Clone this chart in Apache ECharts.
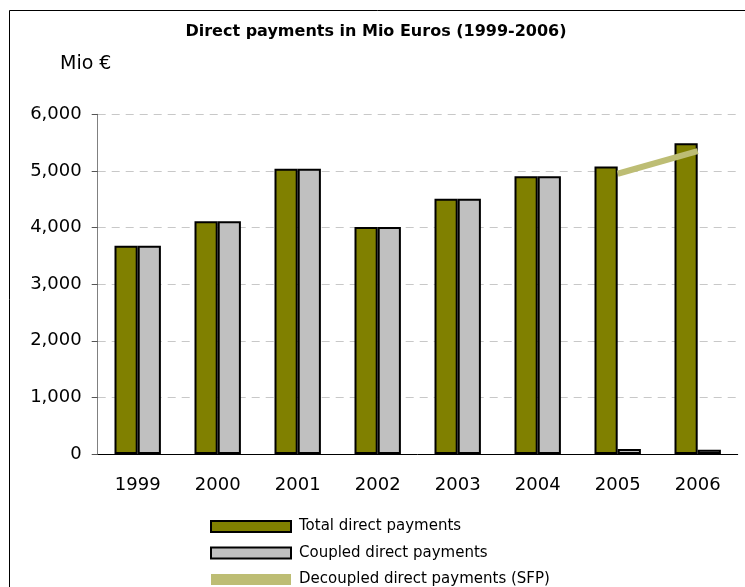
<!DOCTYPE html>
<html>
<head>
<meta charset="utf-8">
<script src="https://cdn.jsdelivr.net/npm/echarts@6/dist/echarts.min.js"></script>
<style>
  html, body { margin: 0; padding: 0; background: #fff; }
  #chart { width: 745px; height: 587px; }
</style>
</head>
<body>
<div id="chart"></div>
<script>
// data
const years = ['1999', '2000', '2001', '2002', '2003', '2004', '2005', '2006']
const totalPayments = [3680, 4110, 5040, 4010, 4510, 4905, 5080, 5490]
const coupledPayments = [3680, 4110, 5040, 4010, 4510, 4905, 90, 75]
const decoupledPayments = [null, null, null, null, null, null, 4950, 5350]
const yTicks = [0, 1000, 2000, 3000, 4000, 5000, 6000]

const font = '"DejaVu Sans", "Liberation Sans", sans-serif'
const chart = echarts.init(document.getElementById('chart'))

const option = {
  backgroundColor: '#fff',
  animation: false,
  textStyle: { fontFamily: font, color: '#000' },
  title: {
    text: 'Direct payments in Mio Euros (1999-2006)',
    left: 371,
    textAlign: 'center',
    top: 19,
    textStyle: { fontFamily: font, fontSize: 16, fontWeight: 'bold', color: '#000' }
  },
  graphic: [
    // outer chart frame (right/bottom edges lie outside the picture)
    {
      type: 'rect',
      shape: { x: 9.5, y: 10.5, width: 800, height: 700 },
      style: { fill: null, stroke: '#000', lineWidth: 1 },
      silent: true
    },
    {
      type: 'text',
      left: 60,
      top: 55,
      style: { text: 'Mio €', font: '19px ' + font, fill: '#000' }
    }
  ],
  legend: {
    orient: 'vertical',
    left: 205,
    top: 513.5,
    height: 120,
    itemWidth: 80,
    itemHeight: 11,
    itemGap: 10.5,
    textStyle: { fontFamily: font, fontSize: 15, lineHeight: 16, color: '#000', padding: [0, 0, 0, 3] },
    data: [
      { name: 'Total direct payments', icon: 'rect' },
      { name: 'Coupled direct payments', icon: 'rect' },
      { name: 'Decoupled direct payments (SFP)', icon: 'rect', itemStyle: { color: '#bdbd74', borderWidth: 0 } }
    ]
  },
  grid: { left: 97.7, right: 7.3, top: 114.3, bottom: 133, containLabel: false },
  xAxis: {
    type: 'category',
    data: years,
    axisLine: { lineStyle: { color: '#000', width: 1 } },
    axisTick: { alignWithLabel: false, length: 6, lineStyle: { color: '#000' } },
    axisLabel: { fontFamily: font, fontSize: 18, color: '#000', margin: 22 }
  },
  yAxis: {
    type: 'value',
    min: yTicks[0],
    max: yTicks[yTicks.length - 1],
    interval: 1000,
    axisLine: { show: true, lineStyle: { color: '#808080', width: 1 } },
    axisTick: { show: true, length: 6, lineStyle: { color: '#555' } },
    axisLabel: {
      fontFamily: font, fontSize: 18, color: '#000', margin: 16,
      formatter: v => v.toLocaleString('en-US')
    },
    splitLine: { lineStyle: { type: [8, 6], color: '#c8c8c8', width: 1 } }
  },
  series: [
    {
      name: 'Total direct payments',
      type: 'bar',
      data: totalPayments,
      barGap: '0%',
      barCategoryGap: '42%',
      itemStyle: { color: '#808000', borderColor: '#000', borderWidth: 2 }
    },
    {
      name: 'Coupled direct payments',
      type: 'bar',
      data: coupledPayments,
      barGap: '0%',
      barCategoryGap: '42%',
      itemStyle: { color: '#c0c0c0', borderColor: '#000', borderWidth: 2 }
    },
    {
      name: 'Decoupled direct payments (SFP)',
      type: 'line',
      data: decoupledPayments,
      symbol: 'none',
      z: 5,
      lineStyle: { color: '#bdbd74', width: 6, cap: 'butt' },
      itemStyle: { color: '#bdbd74' }
    }
  ]
}

chart.setOption(option)
window.addEventListener('resize', () => chart.resize())
</script>
</body>
</html>
